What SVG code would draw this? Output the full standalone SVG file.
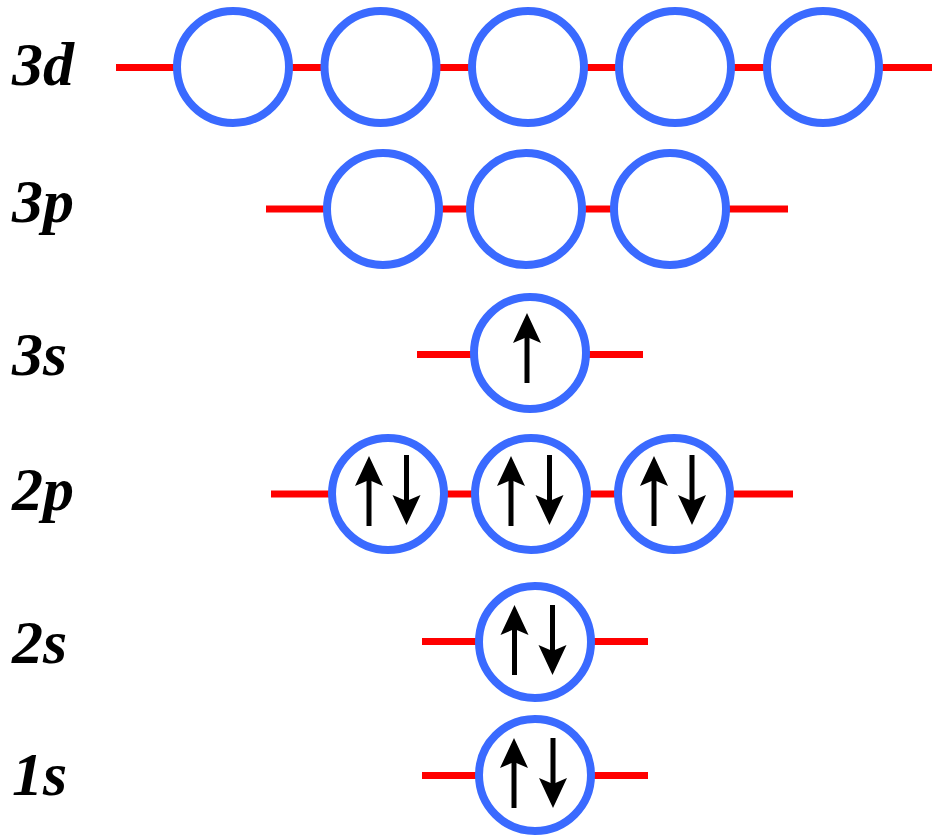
<svg xmlns="http://www.w3.org/2000/svg" xmlns:xlink="http://www.w3.org/1999/xlink" width="932" height="835" viewBox="0 0 932 835">
  <style>
    .lvl { stroke: #ff0000; stroke-width: 7; fill: none; }
    .orb { stroke: #3a6aff; stroke-width: 8; fill: #ffffff; }
    .lbl { font-family: 'Liberation Serif', 'DejaVu Serif', serif; font-weight: 700; font-style: italic; font-size: 62px; fill: #000000; }
  </style>
  <defs>
    <g id="arrow">
      <line x1="0" y1="22" x2="0" y2="70" stroke="#000" stroke-width="5"/>
      <path d="M0,0 L14,30 L0,24 L-14,30 Z" fill="#000"/>
    </g>
  </defs>
  <rect width="932" height="835" fill="#ffffff"/>
  <g id="labels">
    <text class="lbl" x="12" y="85">3d</text>
    <text class="lbl" x="12" y="222">3p</text>
    <text class="lbl" x="12" y="375">3s</text>
    <text class="lbl" x="12" y="510">2p</text>
    <text class="lbl" x="12" y="663">2s</text>
    <text class="lbl" x="12" y="795">1s</text>
  </g>
  <g id="connectors">
    <line class="lvl" x1="116" y1="67.5" x2="932" y2="67.5"/>
    <line class="lvl" x1="266" y1="209" x2="788" y2="209"/>
    <line class="lvl" x1="417" y1="354.5" x2="643" y2="354.5"/>
    <line class="lvl" x1="271" y1="494" x2="793" y2="494"/>
    <line class="lvl" x1="422" y1="641.5" x2="648" y2="641.5"/>
    <line class="lvl" x1="422" y1="775.5" x2="648" y2="775.5"/>
  </g>
  <g id="orbital-3d">
    <circle class="orb" cx="233" cy="67" r="56"/>
    <circle class="orb" cx="380.5" cy="67" r="56"/>
    <circle class="orb" cx="528" cy="67" r="56"/>
    <circle class="orb" cx="675" cy="67" r="56"/>
    <circle class="orb" cx="823" cy="67" r="56"/>
  </g>
  <g id="orbital-3p">
    <circle class="orb" cx="383" cy="209" r="56"/>
    <circle class="orb" cx="526" cy="209" r="56"/>
    <circle class="orb" cx="670" cy="209" r="56"/>
  </g>
  <g id="orbital-3s">
    <circle class="orb" cx="530" cy="353" r="56"/>
    <use xlink:href="#arrow" href="#arrow" transform="translate(527,313)"/>
  </g>
  <g id="orbital-2p">
    <circle class="orb" cx="388" cy="494" r="56"/>
    <use href="#arrow" xlink:href="#arrow" transform="translate(369,456)"/>
    <use href="#arrow" xlink:href="#arrow" transform="translate(406.5,525) scale(1,-1)"/>
    <circle class="orb" cx="531" cy="494" r="56"/>
    <use href="#arrow" xlink:href="#arrow" transform="translate(511,456)"/>
    <use href="#arrow" xlink:href="#arrow" transform="translate(549.5,525) scale(1,-1)"/>
    <circle class="orb" cx="674" cy="494" r="56"/>
    <use href="#arrow" xlink:href="#arrow" transform="translate(654,456)"/>
    <use href="#arrow" xlink:href="#arrow" transform="translate(692,525) scale(1,-1)"/>
  </g>
  <g id="orbital-2s">
    <circle class="orb" cx="535" cy="642" r="56"/>
    <use href="#arrow" xlink:href="#arrow" transform="translate(514.5,605)"/>
    <use href="#arrow" xlink:href="#arrow" transform="translate(552.5,675) scale(1,-1)"/>
  </g>
  <g id="orbital-1s">
    <circle class="orb" cx="535" cy="775" r="56"/>
    <use href="#arrow" xlink:href="#arrow" transform="translate(514,738)"/>
    <use href="#arrow" xlink:href="#arrow" transform="translate(553,808) scale(1,-1)"/>
  </g>
</svg>
